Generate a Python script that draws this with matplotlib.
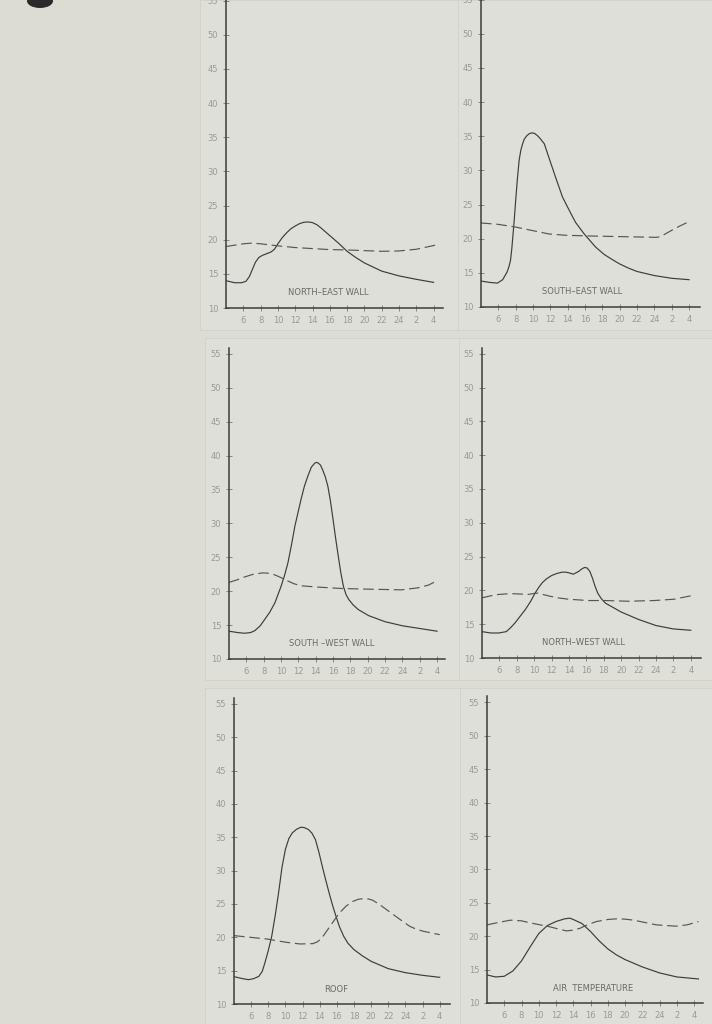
import matplotlib.pyplot as plt
from matplotlib.patches import Rectangle, Ellipse

# hours of the day, 4 am to 4 am next morning (28 = 4)
hour_ticks = [6, 8, 10, 12, 14, 16, 18, 20, 22, 24, 26, 28]
hour_labels = ['6', '8', '10', '12', '14', '16', '18', '20', '22', '24', '2', '4']
temp_ticks = [10, 15, 20, 25, 30, 35, 40, 45, 50, 55]

titles = ['NORTH–EAST WALL', 'SOUTH–EAST WALL', 'SOUTH –WEST WALL',
          'NORTH–WEST WALL', 'ROOF', 'AIR  TEMPERATURE']

# outside surface temperature (solid)
ne_h = [4, 5, 5.8, 6.3, 6.7, 7, 7.4, 7.8, 8.2, 8.7, 9.2, 9.6, 10, 10.5, 11, 11.5, 12, 12.5, 13, 13.5,
        14, 14.5, 15, 16, 17, 18, 19, 20, 22, 24, 26, 28]
ne_t = [14.0, 13.7, 13.7, 13.9, 14.6, 15.5, 16.7, 17.4, 17.7, 17.95, 18.2, 18.6, 19.4, 20.3, 21.0,
        21.6, 22.0, 22.35, 22.55, 22.6, 22.5, 22.2, 21.7, 20.6, 19.5, 18.3, 17.4, 16.6, 15.4, 14.7,
        14.2, 13.75]
se_h = [4, 5, 5.9, 6.5, 7, 7.2, 7.4, 7.55, 7.7, 7.85, 8, 8.2, 8.4, 8.6, 8.8, 9.0, 9.3, 9.6, 9.9, 10.2,
        10.5, 10.8, 11.3, 11.8, 12.6, 13.4, 14.2, 14.9, 15.9, 17.2, 18.2, 19.2, 20, 21, 22, 24, 26, 28]
se_t = [13.8, 13.6, 13.5, 14.0, 15.1, 15.8, 16.8, 18.5, 20.7, 23.0, 25.6, 28.8, 31.5, 33.0, 33.9,
        34.6, 35.1, 35.4, 35.5, 35.4, 35.1, 34.7, 33.9, 32.0, 29.0, 26.1, 24.1, 22.4, 20.7, 18.8,
        17.7, 16.9, 16.3, 15.7, 15.2, 14.6, 14.2, 14.0]
sw_h = [4, 5, 5.8, 6.5, 7, 7.6, 8.1, 8.7, 9.3, 10, 10.4, 10.8, 11.2, 11.6, 12.3, 12.7, 13.1, 13.5,
        13.9, 14.1, 14.3, 14.55, 14.8, 15.1, 15.4, 15.7, 16, 16.3, 16.6, 16.9, 17.2, 17.5, 17.8, 18.3,
        18.9, 20.1, 22, 24, 26, 28]
sw_t = [14.1, 13.9, 13.8, 13.9, 14.2, 14.9, 15.8, 16.9, 18.3, 20.7, 22.3, 24.2, 26.8, 29.6, 33.5,
        35.5, 37.0, 38.3, 38.9, 39.0, 38.9, 38.6, 37.9, 36.9, 35.5, 33.3, 30.6, 27.8, 25.2, 22.7,
        20.7, 19.5, 18.8, 18.0, 17.3, 16.4, 15.5, 14.9, 14.5, 14.1]
nw_h = [4, 5, 5.9, 6.8, 7.3, 7.8, 8.4, 9, 9.6, 10.1, 10.5, 10.9, 11.4, 12, 12.6, 13.2, 13.6, 14, 14.5,
        15.1, 15.5, 15.8, 16.1, 16.4, 16.7, 17, 17.3, 17.7, 18.2, 18.9, 20, 22, 24, 26, 28]
nw_t = [13.9, 13.7, 13.7, 13.9, 14.5, 15.2, 16.2, 17.2, 18.4, 19.6, 20.4, 21.1, 21.7, 22.2, 22.5,
        22.7, 22.7, 22.6, 22.4, 22.8, 23.2, 23.4, 23.3, 22.8, 21.8, 20.6, 19.6, 18.8, 18.1, 17.6,
        16.8, 15.7, 14.8, 14.3, 14.1]
roof_h = [4, 5, 5.7, 6.3, 6.9, 7.3, 7.6, 8.0, 8.4, 8.8, 9.2, 9.6, 10, 10.4, 10.8, 11.3, 11.8, 12.2,
          12.7, 13.1, 13.5, 13.9, 14.3, 14.7, 15.1, 15.5, 15.9, 16.3, 16.8, 17.3, 18, 19, 20, 22, 24,
          26, 28]
roof_t = [14.1, 13.8, 13.65, 13.8, 14.15, 14.9, 16.15, 18.0, 20.15, 23.2, 26.65, 30.5, 33.2, 34.8,
          35.65, 36.2, 36.5, 36.45, 36.15, 35.6, 34.65, 32.8, 30.65, 28.6, 26.65, 24.8, 23.15, 21.6,
          20.15, 19.1, 18.15, 17.2, 16.4, 15.3, 14.7, 14.3, 14.0]
air_h = [4, 5, 6, 7, 8, 9, 10, 11, 12, 13, 13.6, 14, 15, 16, 17, 18, 19, 20, 22, 24, 26, 28.5]
air_t = [14.2, 13.9, 14.0, 14.8, 16.3, 18.4, 20.4, 21.6, 22.2, 22.6, 22.7, 22.5, 21.9, 20.7, 19.3,
         18.1, 17.2, 16.5, 15.4, 14.5, 13.9, 13.6]

# inside temperature (dashed)
ne_dh = [4, 6, 7, 8, 10, 12, 14, 16, 18, 20, 22, 24, 26, 28.2]
ne_dt = [19.0, 19.4, 19.5, 19.4, 19.1, 18.85, 18.7, 18.55, 18.5, 18.4, 18.3, 18.35, 18.6, 19.2]
se_dh = [4, 6, 8, 9.9, 11.8, 13.8, 16.5, 20.3, 24.2, 24.7, 25.4, 26.1, 27, 28]
se_dt = [22.3, 22.1, 21.7, 21.2, 20.7, 20.5, 20.4, 20.3, 20.2, 20.3, 20.8, 21.3, 21.9, 22.5]
sw_dh = [4, 5, 5.8, 6.8, 7.9, 8.6, 9.3, 10, 10.8, 11.5, 12.3, 13.3, 14.3, 17, 20.1, 23.9, 25.8, 27, 28.1]
sw_dt = [21.3, 21.7, 22.1, 22.5, 22.7, 22.65, 22.4, 22.0, 21.5, 21.1, 20.8, 20.7, 20.6, 20.4, 20.3,
         20.2, 20.5, 20.9, 21.6]
nw_dh = [4, 5, 5.9, 7, 7.8, 8.6, 9.3, 10, 10.4, 11, 11.6, 12.7, 13.9, 16.2, 18.1, 20.8, 23.8, 26.1, 28]
nw_dt = [18.9, 19.2, 19.4, 19.5, 19.5, 19.45, 19.4, 19.55, 19.6, 19.4, 19.2, 18.9, 18.7, 18.5, 18.5,
         18.4, 18.5, 18.7, 19.2]
roof_dh = [4, 7.8, 10.1, 11.7, 13.2, 13.7, 14.2, 15.2, 16.3, 17.1, 17.9, 18.5, 19.1, 19.7, 20.2, 21,
           21.8, 23.4, 24.5, 25.3, 26.1, 28]
roof_dt = [20.25, 19.75, 19.25, 19.0, 19.05, 19.3, 19.8, 21.65, 23.65, 24.7, 25.4, 25.7, 25.8, 25.75,
           25.55, 24.9, 24.15, 22.65, 21.65, 21.2, 20.9, 20.4]
air_dh = [4, 5.5, 6.7, 8, 9, 11.3, 12.5, 13.2, 14, 14.8, 15.8, 16.7, 18, 19, 20, 21, 23.6, 25.9,
          27.2, 28.5]
air_dt = [21.7, 22.1, 22.4, 22.3, 22.0, 21.4, 21.0, 20.8, 20.9, 21.2, 21.8, 22.2, 22.5, 22.6, 22.55,
          22.4, 21.7, 21.5, 21.7, 22.2]

solid = [(ne_h, ne_t), (se_h, se_t), (sw_h, sw_t), (nw_h, nw_t), (roof_h, roof_t), (air_h, air_t)]
dashed = [(ne_dh, ne_dt), (se_dh, se_dt), (sw_dh, sw_dt), (nw_dh, nw_dt), (roof_dh, roof_dt), (air_dh, air_dt)]

# panel placement in pixels: y-axis x, baseline (10 deg) y, px per hour, px per degree, x end hour
panels = [(226, 308, 8.65, 6.83, 29.1), (481, 307, 8.67, 6.83, 29.3),
          (229, 659, 8.67, 6.78, 28.9), (482, 658, 8.70, 6.76, 29.2),
          (234, 1004, 8.57, 6.67, 29.2), (487, 1003, 8.63, 6.68, 29.0)]
title_pos = [(15.8, 12.3), (15.7, 12.2), (15.9, 12.3), (15.7, 12.3), (15.9, 12.2), (16.3, 12.2)]

W, H = 712, 1024
bg = '#dcdcd5'
ink = '#3c3c3c'
grey = '#9a9a95'
fam = ['Liberation Sans Narrow', 'DejaVu Sans']

fig = plt.figure(figsize=(W / 100, H / 100), dpi=100, facecolor=bg)

# pasted paper sheets behind the panels
for (x, y, w, h) in [(200, 0, 258, 330), (458, 0, 254, 330), (205, 338, 254, 342),
                     (459, 338, 253, 342), (205, 688, 255, 336), (460, 688, 252, 336)]:
    fig.patches.append(Rectangle((x / W, 1 - (y + h) / H), w / W, h / H, transform=fig.transFigure,
                                 facecolor='#dfdfd9', edgecolor='#d2d2cb', lw=0.6, zorder=-5))

# ink blot top left
fig.patches.append(Ellipse((40 / W, 1 - 1 / H), 26 / W, 14 / H, transform=fig.transFigure,
                           facecolor='#2a2a2a', edgecolor='none', zorder=-4))

ymax = 55.9
for i, (x0, y0, pxh, pxu, xend) in enumerate(panels):
    w = (xend - 4) * pxh
    h = (ymax - 10) * pxu
    ax = fig.add_axes([x0 / W, 1 - y0 / H, w / W, h / H], zorder=2)
    ax.set_xlim(4, xend)
    ax.set_ylim(10, ymax)
    ax.patch.set_alpha(0)
    for s in ['top', 'right']:
        ax.spines[s].set_visible(False)
    for s in ['left', 'bottom']:
        ax.spines[s].set_color(ink)
        ax.spines[s].set_linewidth(1.1)

    hs, ts = solid[i]
    ax.plot(hs, ts, color=ink, lw=0.85, solid_joinstyle='round')
    hd, td = dashed[i]
    ax.plot(hd, td, color='#555555', lw=0.85, dashes=(9, 4))

    ax.set_xticks(hour_ticks)
    ax.set_xticklabels(hour_labels)
    ax.set_yticks(temp_ticks)
    ax.tick_params(axis='both', direction='inout', length=5, width=0.6, color='#777777',
                   labelsize=6, labelcolor=grey, pad=3)
    for lab in ax.get_xticklabels() + ax.get_yticklabels():
        lab.set_family(fam)

    tx, ty = title_pos[i]
    ax.text(tx, ty, titles[i], ha='center', va='center', fontsize=6, color='#6a6a66', family=fam)

fig.savefig('out.png', dpi=100, facecolor=bg)
